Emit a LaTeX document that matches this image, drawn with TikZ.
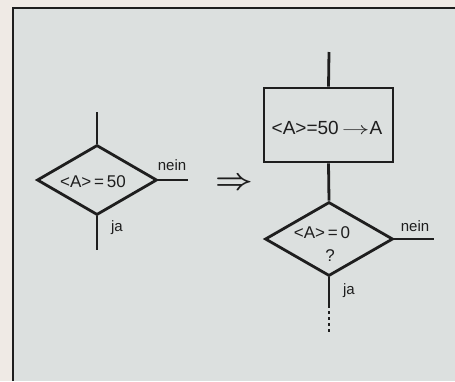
\documentclass[tikz,border=0pt]{standalone}
\usepackage{fontspec}
\setmainfont{Liberation Sans}
\usetikzlibrary{shapes.geometric}
\definecolor{paper}{HTML}{EFEAE5}
\definecolor{panel}{HTML}{DCE0DF}
\definecolor{ink}{HTML}{1E1E1E}
\begin{document}
\begin{tikzpicture}[
  x=1pt, y=-1pt,
  every node/.style={font=\fontsize{17}{19}\selectfont, text=ink},
  flow/.style={draw=ink, line width=2.8pt},
  decision/.style={diamond, draw=ink, line width=2.8pt, inner sep=0pt},
  actbox/.style={rectangle, draw=ink, line width=2.8pt, inner sep=0pt,
    minimum width=129pt, minimum height=74pt},
  small/.style={font=\fontsize{15}{17}\selectfont, inner sep=1pt},
]
\useasboundingbox (0,0) rectangle (455,381);
\fill[paper] (0,0) rectangle (455,381);
\fill[panel] (13,8) rectangle (455,381);
\draw[ink, line width=2.2pt] (13,381) -- (13,8) -- (455,8);

% Left: single test
\node[decision, minimum width=120pt, minimum height=70pt] (T1) at (97,180) {};
\node[inner sep=0pt] (T1t) at (93,182) {<A>\,=\,50};
\coordinate (T1in) at (97,112);
\coordinate (T1no) at (188,180);
\coordinate (T1yes) at (97,250);
\draw[flow] (T1in) -- (T1.north);
\draw[flow] (T1.east) -- (T1no);
\draw[flow] (T1.south) -- (T1yes);
\node[small] (T1nein) at (172,165) {nein};
\node[small] (T1ja) at (117,228) {ja};

% Implies
\node[inner sep=0pt] (impl) at (234,184) {\scalebox{1.9}[1.7]{\boldmath$\Rightarrow$}};

% Right: assignment, then test on zero
\node[actbox] (S1) at (328.5,125) {};
\node[inner sep=0pt, font=\fontsize{19}{21}\selectfont] (S1t) at (327,128)
  {<A>=50\,\scalebox{1.6}[1]{$\rightarrow$}A};
\node[decision, minimum width=128pt, minimum height=74pt] (T2) at (329,239) {};
\node[inner sep=0pt] (T2t) at (322,233) {<A>\,=\,0};
\node[inner sep=0pt] (T2q) at (330,256) {?};
\coordinate (S1in) at (329,52);
\coordinate (T2no) at (434,239);
\coordinate (T2yes) at (329,305);
\coordinate (T2end) at (329,334);
\draw[flow] (S1in) -- (S1.north);
\draw[flow] (S1.south) -- (T2.north);
\draw[flow] (T2.east) -- (T2no);
\draw[flow] (T2.south) -- (T2yes);
\draw[flow, line width=2pt, dash pattern=on 3pt off 3pt] (T2yes) -- (T2end);
\node[small] (T2nein) at (415,226) {nein};
\node[small] (T2ja) at (349,291) {ja};
\end{tikzpicture}
\end{document}
